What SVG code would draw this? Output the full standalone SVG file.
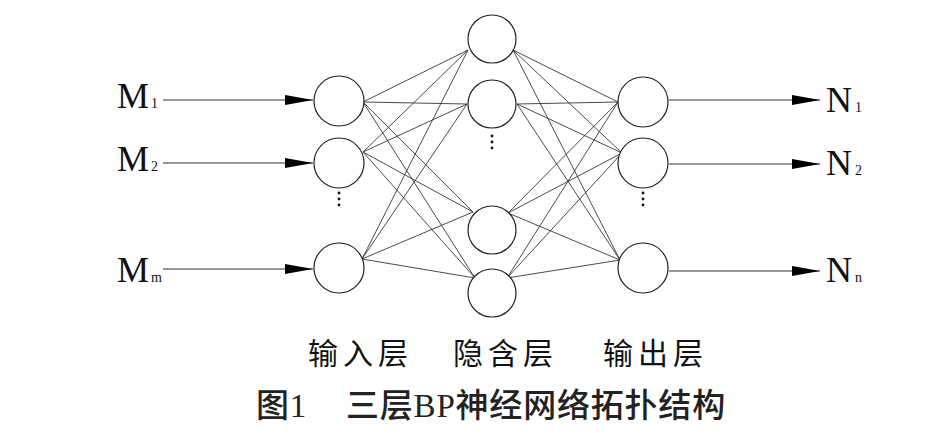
<svg xmlns="http://www.w3.org/2000/svg" width="949" height="433" viewBox="0 0 949 433">
<style>
.node{fill:#fff;stroke:#222;stroke-width:1.2}
.edge{stroke:#2a2a2a;stroke-width:0.85;fill:none}
.arr{stroke:#333;stroke-width:1.2;fill:none;marker-end:url(#ah)}
.var{font-family:"Liberation Serif",serif;font-size:36px;fill:#111}
.sub{font-size:14px}
.lab{font-family:"Noto Sans CJK SC",sans-serif;font-size:30px;fill:#111;letter-spacing:5px}
.cap{font-family:"Liberation Serif","Noto Sans CJK SC",serif;font-size:33px;font-weight:500;fill:#222;letter-spacing:0.8px}
.dot{fill:#111}
</style>
<defs>
<marker id="ah" markerUnits="userSpaceOnUse" markerWidth="28" markerHeight="10" refX="28" refY="5" orient="auto">
<path d="M0,0 L28,5 L0,10 Z" fill="#000"/>
</marker>
</defs>
<g id="connectors">
<g id="in-hidden">
<line class="edge" x1="363" y1="102" x2="468" y2="50"/>
<line class="edge" x1="363" y1="102" x2="467" y2="104"/>
<line class="edge" x1="363" y1="102" x2="473" y2="212"/>
<line class="edge" x1="363" y1="102" x2="475" y2="278"/>
<line class="edge" x1="363" y1="152" x2="468" y2="50"/>
<line class="edge" x1="363" y1="152" x2="467" y2="104"/>
<line class="edge" x1="363" y1="152" x2="473" y2="212"/>
<line class="edge" x1="363" y1="152" x2="475" y2="278"/>
<line class="edge" x1="362" y1="259" x2="468" y2="50"/>
<line class="edge" x1="362" y1="259" x2="467" y2="104"/>
<line class="edge" x1="362" y1="259" x2="473" y2="212"/>
<line class="edge" x1="362" y1="259" x2="475" y2="278"/>
</g>
<g id="hidden-out">
<line class="edge" x1="513" y1="50" x2="618" y2="102"/>
<line class="edge" x1="513" y1="50" x2="622" y2="153"/>
<line class="edge" x1="513" y1="50" x2="620" y2="260"/>
<line class="edge" x1="517" y1="104" x2="618" y2="102"/>
<line class="edge" x1="517" y1="104" x2="622" y2="153"/>
<line class="edge" x1="517" y1="104" x2="620" y2="260"/>
<line class="edge" x1="508" y1="213" x2="618" y2="102"/>
<line class="edge" x1="508" y1="213" x2="622" y2="153"/>
<line class="edge" x1="508" y1="213" x2="620" y2="260"/>
<line class="edge" x1="507" y1="278" x2="618" y2="102"/>
<line class="edge" x1="507" y1="278" x2="622" y2="153"/>
<line class="edge" x1="507" y1="278" x2="620" y2="260"/>
</g>
<g id="arrows">
<line class="arr" x1="163" y1="100" x2="313" y2="100"/>
<line class="arr" x1="163" y1="163" x2="313" y2="163"/>
<line class="arr" x1="163" y1="269" x2="313" y2="269"/>
<line class="arr" x1="669" y1="100" x2="820" y2="100"/>
<line class="arr" x1="669" y1="164" x2="820" y2="164"/>
<line class="arr" x1="669" y1="271" x2="820" y2="271"/>
</g>
</g>
<g id="input-layer">
<g id="in1"><circle class="node" cx="339" cy="101" r="25"/></g>
<g id="in2"><circle class="node" cx="339" cy="163" r="25"/></g>
<g id="in-dots"><circle class="dot" cx="339" cy="193" r="1.4"/><circle class="dot" cx="339" cy="199" r="1.4"/><circle class="dot" cx="339" cy="205" r="1.4"/></g>
<g id="inm"><circle class="node" cx="339" cy="268" r="25"/></g>
</g>
<g id="hidden-layer">
<g id="h1"><circle class="node" cx="492" cy="39" r="24"/></g>
<g id="h2"><circle class="node" cx="492" cy="104" r="24"/></g>
<g id="h-dots"><circle class="dot" cx="492" cy="136" r="1.4"/><circle class="dot" cx="492" cy="142" r="1.4"/><circle class="dot" cx="492" cy="148" r="1.4"/></g>
<g id="h3"><circle class="node" cx="492" cy="230" r="24"/></g>
<g id="h4"><circle class="node" cx="492" cy="293" r="24"/></g>
</g>
<g id="output-layer">
<g id="o1"><circle class="node" cx="643" cy="102" r="25"/></g>
<g id="o2"><circle class="node" cx="643" cy="163" r="25"/></g>
<g id="o-dots"><circle class="dot" cx="643" cy="193" r="1.4"/><circle class="dot" cx="643" cy="199" r="1.4"/><circle class="dot" cx="643" cy="205" r="1.4"/></g>
<g id="on"><circle class="node" cx="643" cy="268" r="25"/></g>
</g>
<g id="input-labels">
<text class="var" x="117" y="108">M<tspan class="sub" dx="2">1</tspan></text>
<text class="var" x="117" y="171">M<tspan class="sub" dx="2">2</tspan></text>
<text class="var" x="117" y="282">M<tspan class="sub" dx="2">m</tspan></text>
</g>
<g id="output-labels">
<text class="var" x="826" y="112">N<tspan class="sub" dx="3">1</tspan></text>
<text class="var" x="826" y="175">N<tspan class="sub" dx="3">2</tspan></text>
<text class="var" x="826" y="282">N<tspan class="sub" dx="3">n</tspan></text>
</g>
<g id="layer-labels">
<text class="lab" x="308" y="364">输入层</text>
<text class="lab" x="453" y="364">隐含层</text>
<text class="lab" x="603" y="364">输出层</text>
</g>
<g id="caption">
<text class="cap" x="256" y="417">图1</text>
<text class="cap" x="346" y="417">三层BP神经网络拓扑结构</text>
</g>
</svg>
